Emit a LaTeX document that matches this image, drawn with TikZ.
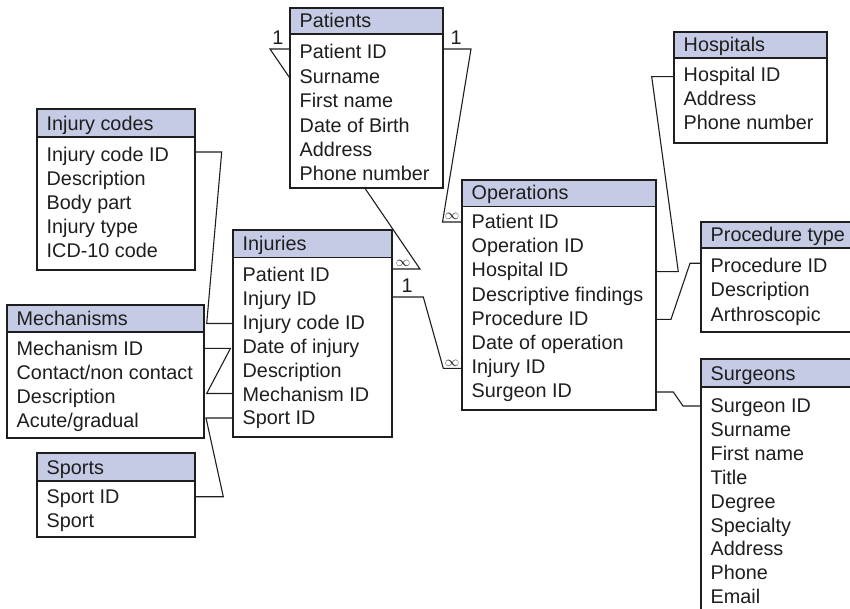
\documentclass[tikz,border=0pt]{standalone}
\usepackage{fontspec}
\setmainfont{Liberation Sans}
\usetikzlibrary{fit}
\definecolor{hdrblue}{RGB}{197,203,228}
\definecolor{ink}{RGB}{30,30,30}
\pgfdeclarelayer{bg}
\pgfsetlayers{bg,main}
\tikzset{
  tbl/.style={draw=ink, line width=1.5pt, inner sep=0pt, outer sep=0pt},
  tblline/.style={draw=ink, line width=1.5pt},
  hdr/.style={fill=hdrblue, inner sep=0pt, outer sep=0pt, draw=none},
  bodyfill/.style={fill=white, inner sep=0pt, outer sep=0pt, draw=none},
  txt/.style={anchor=base west, inner sep=0pt, text=ink, font=\fontsize{19.8}{22}\selectfont},
  card/.style={anchor=base, inner sep=0pt, text=ink, font=\fontsize{19.8}{22}\selectfont},
  inf/.style={anchor=base, inner sep=0pt, text=ink, font=\fontsize{15}{15}\selectfont},
  conn/.style={draw=ink, line width=1.1pt, line join=miter},
}
% name, left, top, right, header bottom, bottom, title
\newcommand\ertable[7]{%
  \node[bodyfill, fit={(#2,#3) (#4,#6)}] (#1-bg) {};
  \node[hdr, fit={(#2,#3) (#4,#5)}] (#1-h) {};
  \node[tbl, fit={(#2,#3) (#4,#6)}] (#1) {};
  \draw[tblline] (#1.west |- #1-h.south) -- (#1.east |- #1-h.south);
  \node[txt] (#1-title) at ({#2+9.5},{#5-6.5}) {#7};
}
% name, left, first baseline, pitch, rows
\newcommand\errows[5]{%
  \foreach \rt [count=\ri] in {#5} {
    \node[txt] (#1-\ri) at ({#2+9.5},{#3+(\ri-1)*#4}) {\rt};
  }
}
\begin{document}
\begin{tikzpicture}[x=1pt,y=-1pt]
\useasboundingbox (0,0) rectangle (850,609);
\clip (0,0) rectangle (850,609);

% tables
\ertable{pat}{290}{8}{443}{34}{188}{Patients}
\errows{pat}{290}{59}{24.4}{Patient ID,Surname,First name,Date of Birth,Address,Phone number}

\ertable{hos}{674}{32}{827}{58}{143}{Hospitals}
\errows{hos}{674}{82}{24}{Hospital ID,Address,Phone number}

\ertable{icd}{37}{109}{195}{137}{270}{Injury codes}
\errows{icd}{37}{161.5}{23.9}{Injury code ID,Description,Body part,Injury type,ICD-10 code}

\ertable{ops}{462}{180}{656}{206.5}{410}{Operations}
\errows{ops}{462}{228.5}{24.2}{Patient ID,Operation ID,Hospital ID,Descriptive findings,Procedure ID,Date of operation,Injury ID,Surgeon ID}

\ertable{inj}{233}{230}{392}{257.3}{437}{Injuries}
\errows{inj}{233}{281.5}{23.9}{Patient ID,Injury ID,Injury code ID,Date of injury,Description,Mechanism ID,Sport ID}

\ertable{pro}{701}{222}{853}{248}{332}{Procedure type}
\errows{pro}{701}{272.5}{24.3}{Procedure ID,Description,Arthroscopic}

\ertable{mech}{7}{305}{204}{332}{438}{Mechanisms}
\errows{mech}{7}{355.5}{24}{Mechanism ID,Contact/non contact,Description,Acute/gradual}

\ertable{spo}{37}{453}{195}{481}{537}{Sports}
\errows{spo}{37}{503.5}{24}{Sport ID,Sport}

\ertable{sur}{701}{359}{853}{387}{618}{Surgeons}
\errows{sur}{701}{412.5}{23.9}{Surgeon ID,Surname,First name,Title,Degree,Specialty,Address,Phone,Email}

% connectors (behind the tables)
\begin{pgfonlayer}{bg}
\draw[conn] (pat.west |- 0,49) -- (270,49) -- (420,269) -- (inj.east |- 0,269);
\draw[conn] (pat.east |- 0,49) -- (471,49) -- (442.5,222) -- (ops.west |- 0,222);
\draw[conn] (inj.east |- 0,297) -- (423.3,297) -- (443.3,368.3) -- (ops.west |- 0,368.3);
\draw[conn] (icd.east |- 0,152) -- (221.7,152) -- (206.7,323.5) -- (inj.west |- 0,323.5);
\draw[conn] (mech.east |- 0,348.3) -- (230.5,348.3) -- (206.7,393.5) -- (inj.west |- 0,393.5);
\draw[conn] (inj.west |- 0,418) -- (206,418) -- (223.3,496.7) -- (spo.east |- 0,496.7);
\draw[conn] (hos.west |- 0,76.7) -- (651.7,76.7) -- (678.3,271.7) -- (ops.east |- 0,271.7);
\draw[conn] (pro.west |- 0,263.3) -- (690,263.3) -- (671,319.3) -- (ops.east |- 0,319.3);
\draw[conn] (sur.west |- 0,406) -- (683,406) -- (673.3,392) -- (ops.east |- 0,392);
\end{pgfonlayer}

% cardinality labels
\node[card] (c1) at (278,45) {1};
\node[card] (c2) at (456,45) {1};
\node[card] (c3) at (407,292) {1};
\node[inf] (m1) at (403,266.5) {$\infty$};
\node[inf] (m2) at (452,220) {$\infty$};
\node[inf] (m3) at (452,366) {$\infty$};
\end{tikzpicture}
\end{document}
